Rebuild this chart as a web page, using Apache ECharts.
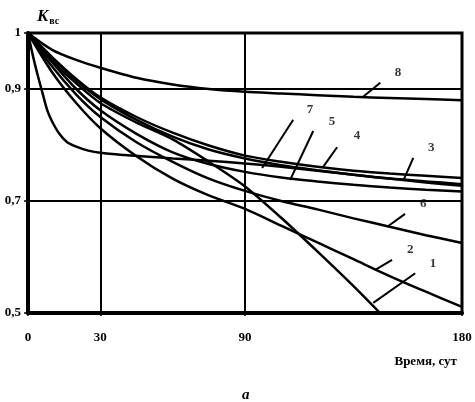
<!DOCTYPE html>
<html><head><meta charset="utf-8">
<script src="https://cdn.jsdelivr.net/npm/echarts@6/dist/echarts.min.js"></script>
<style>html,body{margin:0;padding:0;background:#fff}#c{width:475px;height:402px}</style>
</head><body><div id="c"></div>
<script>
// ---- data ----
const days = [0,10,20,30,45,60,75,90,105,120,135,150,165,180];
const curve8 = [1,0.97,0.952,0.938,0.92,0.908,0.9,0.895,0.892,0.889,0.886,0.884,0.882,0.88];
const curve3 = [1,0.955,0.915,0.882,0.845,0.815,0.792,0.776,0.764,0.755,0.747,0.74,0.735,0.73];
const curve4 = [1,0.957,0.918,0.885,0.85,0.822,0.799,0.781,0.77,0.761,0.754,0.749,0.745,0.741];
const curve5 = [1,0.948,0.9,0.862,0.82,0.787,0.766,0.752,0.742,0.735,0.729,0.724,0.72,0.717];
const curve6 = [1,0.94,0.89,0.85,0.805,0.77,0.74,0.718,0.70,0.685,0.669,0.654,0.639,0.625];
const curve2 = [1,0.93,0.875,0.83,0.78,0.74,0.71,0.686,0.656,0.626,0.596,0.566,0.538,0.511];
const days1 = [0,10,20,30,45,60,75,90,105,120,135,146];
const curve1 = [1,0.95,0.91,0.875,0.84,0.81,0.77,0.726,0.67,0.61,0.548,0.5];
const days7 = [0,2,4,6,8,10,13,16,20,25,30,40,50,60,75,90,105,120,135,150,165,180];
const curve7 = [1,0.96,0.925,0.893,0.862,0.842,0.82,0.806,0.797,0.79,0.786,0.782,0.779,0.776,0.772,0.767,0.761,0.754,0.747,0.74,0.733,0.727];
const xTicks = [0,30,90,180];
const yTicks = [0.5,0.7,0.9,1];
const xGrid = [30,90];
const yGrid = [0.7,0.9];
// curve labels: name, text anchor (day, value), leader line start, leader line end
const labelNames = ['8','7','5','4','3','6','2','1'];
const labelAt = [[153.5,0.929],[117,0.8625],[126.1,0.841],[136.5,0.816],[167.2,0.796],[163.9,0.695],[158.5,0.6125],[168,0.589]];
const leaderFrom = [[146.1,0.911],[110,0.845],[118.3,0.825],[128.2,0.796],[159.8,0.777],[156.4,0.677],[151,0.595],[160.6,0.571]];
const leaderTo = [[139,0.886],[97.1,0.759],[108.7,0.7375],[122.4,0.761],[155.6,0.736],[149,0.654],[144,0.577],[143.2,0.518]];

const FONT = 'Liberation Serif';
const zip = (xs, ys) => xs.map((x, i) => [x, ys[i]]);
const curves = [
  ['1', days1, curve1], ['2', days, curve2], ['3', days, curve3], ['4', days, curve4],
  ['5', days, curve5], ['6', days, curve6], ['7', days7, curve7], ['8', days, curve8]
];
const lineSeries = curves.map(([n, xs, ys]) => ({
  name: n, type: 'line', data: zip(xs, ys), smooth: 0.3,
  showSymbol: false, symbol: 'none', silent: true,
  lineStyle: { color: '#000', width: 2.5 }, z: 3
}));

const chart = echarts.init(document.getElementById('c'), null, { renderer: 'canvas' });
chart.setOption({
  animation: false,
  backgroundColor: '#fff',
  title: [
    { text: '{k|K}{s|вс}', left: 32, top: 2,
      textStyle: { rich: {
        k: { fontFamily: FONT, fontStyle: 'italic', fontWeight: 'bold', fontSize: 17, color: '#000' },
        s: { fontFamily: FONT, fontWeight: 'bold', fontSize: 10, color: '#000', padding: [9, 0, 0, 1] }
      } } },
    { text: 'Время, сут', right: 13, top: 350,
      textStyle: { fontFamily: FONT, fontWeight: 'bold', fontSize: 13, color: '#000' } },
    { text: 'а', left: 237, top: 383,
      textStyle: { fontFamily: FONT, fontStyle: 'italic', fontWeight: 'bold', fontSize: 15, color: '#000' } }
  ],
  grid: { left: 28, right: 13, top: 33, bottom: 89, show: true, borderColor: '#000', borderWidth: 3, backgroundColor: 'transparent' },
  xAxis: {
    type: 'value', min: 0, max: 180,
    axisLine: { show: true, lineStyle: { color: '#000', width: 4 } },
    axisTick: { show: true, customValues: xTicks, length: 3, lineStyle: { color: '#000', width: 1.5 } },
    axisLabel: { customValues: xTicks, margin: 18, color: '#000', fontFamily: FONT, fontWeight: 'bold', fontSize: 13 },
    splitLine: { show: false }
  },
  yAxis: {
    type: 'value', min: 0.5, max: 1,
    axisLine: { show: true, lineStyle: { color: '#000', width: 4 } },
    axisTick: { show: true, customValues: yTicks, length: 4, lineStyle: { color: '#000', width: 1.5 } },
    axisLabel: { customValues: yTicks, margin: 7, color: '#000', fontFamily: FONT, fontWeight: 'bold', fontSize: 13,
      formatter: v => String(v).replace('.', ',') },
    splitLine: { show: false }
  },
  series: [
    {
      name: 'grid', type: 'line', data: [], silent: true,
      markLine: {
        silent: true, symbol: 'none', label: { show: false }, animation: false,
        lineStyle: { color: '#000', width: 2, type: 'solid' },
        data: xGrid.map(v => ({ xAxis: v })).concat(yGrid.map(v => ({ yAxis: v })))
      }
    },
    ...lineSeries,
    {
      name: 'leaders', type: 'line', data: [], silent: true,
      markLine: {
        silent: true, symbol: 'none', label: { show: false }, animation: false,
        lineStyle: { color: '#000', width: 2, type: 'solid' },
        data: leaderFrom.map((p, i) => [{ coord: p }, { coord: leaderTo[i] }])
      }
    },
    {
      name: 'labels', type: 'scatter', silent: true, symbolSize: 1,
      itemStyle: { color: 'rgba(0,0,0,0)' },
      data: labelAt.map((p, i) => [p[0], p[1], labelNames[i]]),
      label: { show: true, position: 'inside', formatter: p => p.value[2],
        color: '#000', fontFamily: FONT, fontWeight: 'bold', fontSize: 13 },
      z: 5
    }
  ]
});
</script></body></html>
